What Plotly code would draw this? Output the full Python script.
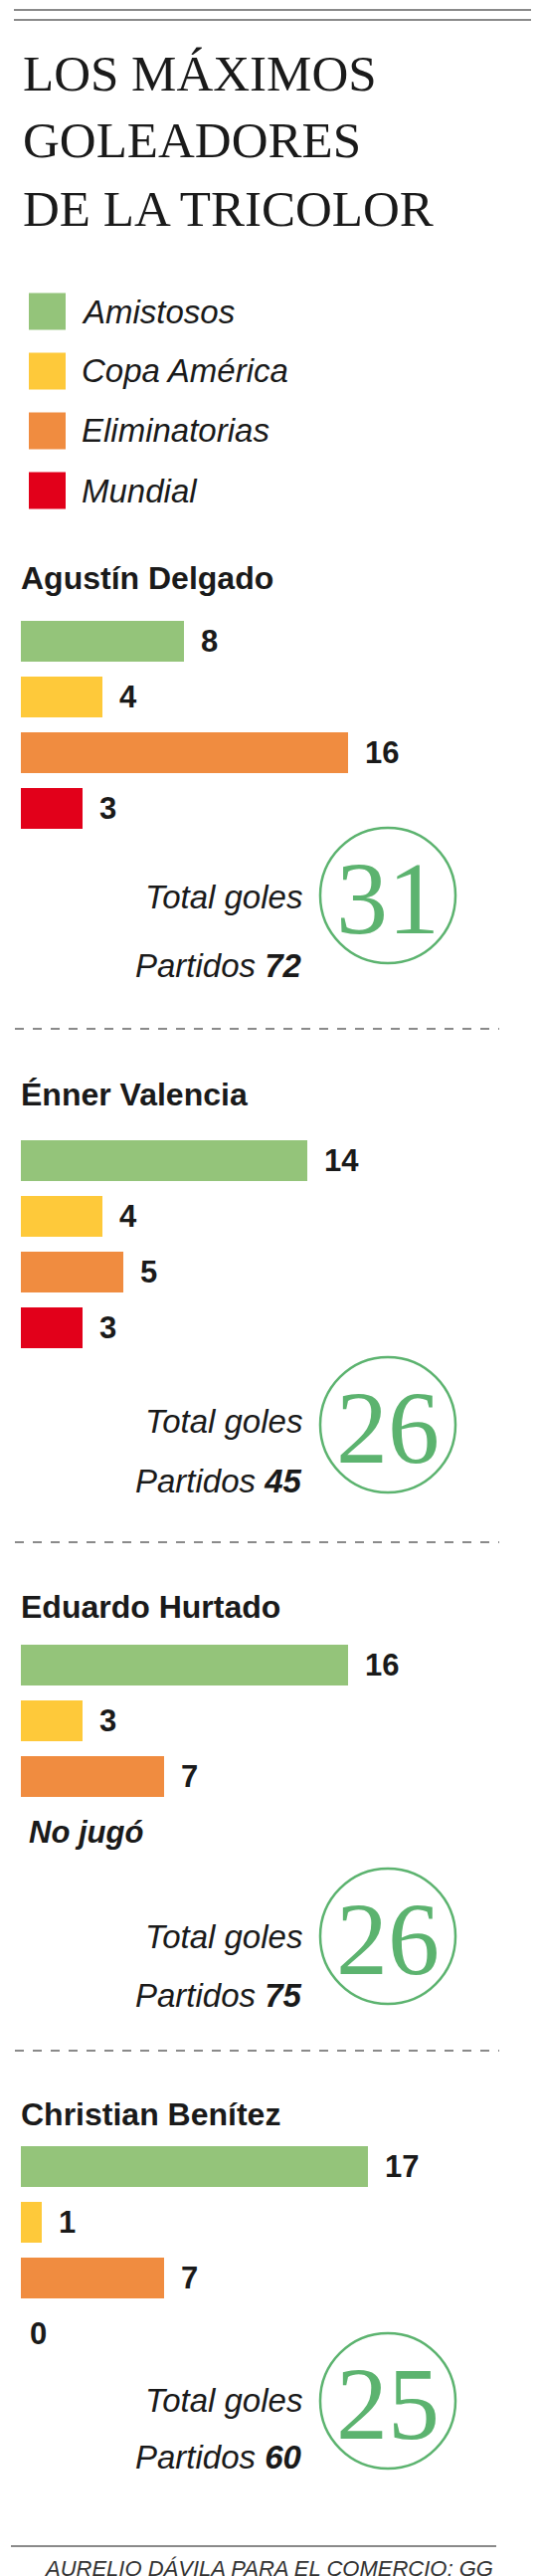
import plotly.graph_objects as go

players = ["Agustín Delgado", "Énner Valencia", "Eduardo Hurtado", "Christian Benítez"]
categories = ["Amistosos", "Copa América", "Eliminatorias", "Mundial"]
amistosos = [8, 14, 16, 17]
copa_america = [4, 4, 3, 1]
eliminatorias = [16, 5, 7, 7]
mundial = [3, 3, None, 0]   # None = no jugó
total_goles = [31, 26, 26, 25]
partidos = [72, 45, 75, 60]

COLORS = ["#94c47a", "#fec93a", "#f08c40", "#e2001a"]
CIRCLE_GREEN = "#5cb36f"
TEXT = "#1a1a1a"
SANS = "Liberation Sans"
SERIF = "Liberation Serif"

W, H = 542, 2589
X0, PX_PER_GOAL = 13, 20.55
BAR_H, BAR_STEP = 41, 56

# vertical layout of each player block (pixels from top)
name_y = [573, 1092, 1607, 2117]
bar_top = [616, 1138, 1645, 2149]
circle_y = [892, 1424, 1938, 2405]
total_y = [893, 1420, 1938, 2404]
partidos_y = [962, 1480, 1997, 2461]
dash_y = [1026, 1542, 2053]


def py(v):
    return 1 - v / H


def px(v):
    return v / W


series = [amistosos, copa_america, eliminatorias, mundial]

fig = go.Figure()
for ci, (cat, vals) in enumerate(zip(categories, series)):
    ys = [bar_top[p] + BAR_H / 2 + ci * BAR_STEP for p in range(len(players))]
    fig.add_trace(go.Bar(
        x=vals, y=ys, orientation="h", width=BAR_H, name=cat,
        marker=dict(color=COLORS[ci], line=dict(width=0)),
        hoverinfo="skip", showlegend=False,
    ))
    for p, v in enumerate(vals):
        if v is None:
            fig.add_annotation(x=0, y=ys[p], xref="x", yref="y", text="<b><i>No jugó</i></b>",
                               showarrow=False, xanchor="left", xshift=6,
                               font=dict(family=SANS, size=31, color=TEXT))
        else:
            fig.add_annotation(x=v, y=ys[p], xref="x", yref="y", text=f"<b>{v}</b>",
                               showarrow=False, xanchor="left", xshift=15 if v else 7,
                               font=dict(family=SANS, size=31, color=TEXT))

shapes = []
annotations = []

# top rules
for yy in (2, 12):
    shapes.append(dict(type="line", xref="paper", yref="paper", x0=px(6), x1=px(536),
                       y0=py(yy), y1=py(yy), line=dict(color="#8a8a8a", width=2)))

# title
for line, yy in zip(["LOS MÁXIMOS", "GOLEADORES", "DE LA TRICOLOR"], [66, 133, 202]):
    annotations.append(dict(x=px(13), y=py(yy), xref="paper", yref="paper", text=line,
                            showarrow=False, xanchor="left", yanchor="middle",
                            font=dict(family=SERIF, size=51, color=TEXT)))

# legend
for i, cat in enumerate(categories):
    cy = 305 + i * 60
    shapes.append(dict(type="rect", xref="paper", yref="paper", x0=px(21), x1=px(58),
                       y0=py(cy - 18.5), y1=py(cy + 18.5),
                       fillcolor=COLORS[i], line=dict(width=0)))
    annotations.append(dict(x=px(72), y=py(cy), xref="paper", yref="paper",
                            text=f"<i>{cat}</i>", showarrow=False, xanchor="left",
                            yanchor="middle", font=dict(family=SANS, size=33, color=TEXT)))

# player blocks
for p, name in enumerate(players):
    annotations.append(dict(x=px(11), y=py(name_y[p]), xref="paper", yref="paper",
                            text=f"<b>{name}</b>", showarrow=False, xanchor="left",
                            yanchor="middle", font=dict(family=SANS, size=32, color=TEXT)))
    cy = circle_y[p]
    shapes.append(dict(type="circle", xref="paper", yref="paper",
                       x0=px(382 - 68), x1=px(382 + 68), y0=py(cy - 68), y1=py(cy + 68),
                       line=dict(color=CIRCLE_GREEN, width=2.5)))
    annotations.append(dict(x=px(382), y=py(cy + 2), xref="paper", yref="paper",
                            text=str(total_goles[p]), showarrow=False, xanchor="center",
                            yanchor="middle",
                            font=dict(family=SERIF, size=104, color=CIRCLE_GREEN)))
    annotations.append(dict(x=px(298), y=py(total_y[p]), xref="paper", yref="paper",
                            text="<i>Total goles</i>", showarrow=False, xanchor="right",
                            yanchor="middle", font=dict(family=SANS, size=33, color=TEXT)))
    annotations.append(dict(x=px(298), y=py(partidos_y[p]), xref="paper", yref="paper",
                            text=f"<i>Partidos</i> <b><i>{partidos[p]}</i></b>",
                            showarrow=False, xanchor="right", yanchor="middle",
                            font=dict(family=SANS, size=33, color=TEXT)))

# dashed separators
for yy in dash_y:
    shapes.append(dict(type="line", xref="paper", yref="paper", x0=px(7), x1=px(494),
                       y0=py(yy), y1=py(yy), line=dict(color="#8a8a8a", width=2, dash="dash")))

# footer
shapes.append(dict(type="line", xref="paper", yref="paper", x0=px(3), x1=px(491),
                   y0=py(2551), y1=py(2551), line=dict(color="#8a8a8a", width=2)))
annotations.append(dict(x=px(490), y=py(2573), xref="paper", yref="paper",
                        text="<i>AURELIO DÁVILA PARA EL COMERCIO; GG</i>", showarrow=False,
                        xanchor="right", yanchor="middle",
                        font=dict(family=SANS, size=22, color="#333333")))

fig.update_layout(
    width=W, height=H,
    margin=dict(l=0, r=0, t=0, b=0),
    paper_bgcolor="white", plot_bgcolor="white",
    bargap=0,
    xaxis=dict(range=[-X0 / PX_PER_GOAL, (W - X0) / PX_PER_GOAL], visible=False, fixedrange=True),
    yaxis=dict(range=[H, 0], visible=False, fixedrange=True),
    shapes=shapes,
    annotations=list(fig.layout.annotations) + annotations,
)

fig.write_html("out.html")
